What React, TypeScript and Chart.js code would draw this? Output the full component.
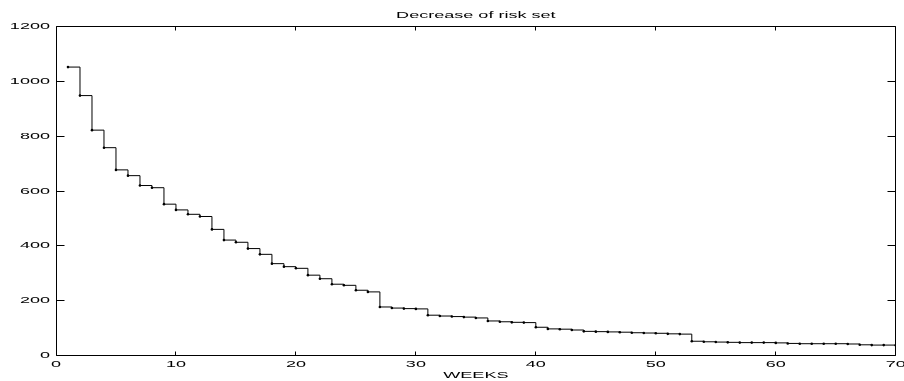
import React, { useEffect, useRef } from "react";
import { Chart, registerables } from "chart.js";

Chart.register(...registerables);

const chartTitle = "Decrease of risk set";
const xAxisTitle = "WEEKS";

const weeks = [
  1, 2, 3, 4, 5, 6, 7, 8, 9, 10,
  11, 12, 13, 14, 15, 16, 17, 18, 19, 20,
  21, 22, 23, 24, 25, 26, 27, 28, 29, 30,
  31, 32, 33, 34, 35, 36, 37, 38, 39, 40,
  41, 42, 43, 44, 45, 46, 47, 48, 49, 50,
  51, 52, 53, 54, 55, 56, 57, 58, 59, 60,
  61, 62, 63, 64, 65, 66, 67, 68, 69, 70,
];

const riskSet = [
  1052, 948, 822, 758, 677, 656, 620, 612, 552, 531,
  515, 507, 460, 421, 413, 390, 369, 335, 324, 318,
  293, 280, 260, 256, 238, 232, 177, 173, 171, 170,
  147, 144, 142, 140, 137, 126, 123, 121, 120, 103,
  97, 96, 93, 88, 87, 86, 85, 83, 82, 81,
  79, 78, 52, 50, 49, 48, 47, 47, 47, 46,
  44, 43, 43, 43, 43, 42, 39, 38, 38, 37,
];

const xTicks = [0, 10, 20, 30, 40, 50, 60, 70];
const yTicks = [0, 200, 400, 600, 800, 1000, 1200];

const FONT_FAMILY = "'Liberation Sans', Helvetica, Arial, sans-serif";
const STRETCH = 1.9;

// Draws text horizontally stretched (the reference's text is wide and short)
const stretchText = {
  id: "stretchText",
  beforeDraw(chart: any) {
    const ctx: any = chart.ctx;
    if (ctx.__origFillText) return;
    const orig = ctx.fillText;
    ctx.__origFillText = orig;
    ctx.fillText = function (text: string, x: number, y: number, maxWidth?: number) {
      this.save();
      this.translate(x, y);
      this.scale(STRETCH, 1);
      if (maxWidth !== undefined && maxWidth !== null && isFinite(maxWidth)) {
        orig.call(this, text, 0, 0, maxWidth / STRETCH);
      } else {
        orig.call(this, text, 0, 0);
      }
      this.restore();
    };
  },
  afterDraw(chart: any) {
    const ctx: any = chart.ctx;
    if (ctx.__origFillText) {
      ctx.fillText = ctx.__origFillText;
      delete ctx.__origFillText;
    }
  },
};

// MATLAB-style box with inward ticks on all four sides
const boxAndTicks = {
  id: "boxAndTicks",
  afterDraw(chart: any) {
    const { ctx, chartArea } = chart;
    const xs = chart.scales.x;
    const ys = chart.scales.y;
    const al = (v: number) => Math.floor(v) + 0.5;
    const L = al(chartArea.left);
    const R = al(chartArea.right);
    const T = al(chartArea.top);
    const B = al(chartArea.bottom);
    ctx.save();
    ctx.strokeStyle = "#000";
    ctx.lineWidth = 1;
    ctx.beginPath();
    ctx.rect(L, T, R - L, B - T);
    ctx.stroke();
    ctx.beginPath();
    xs.ticks.forEach((t: any) => {
      const px = al(xs.getPixelForValue(t.value));
      ctx.moveTo(px, B);
      ctx.lineTo(px, B - 4);
      ctx.moveTo(px, T);
      ctx.lineTo(px, T + 4);
    });
    ys.ticks.forEach((t: any) => {
      const py = al(ys.getPixelForValue(t.value));
      ctx.moveTo(L, py);
      ctx.lineTo(L + 8, py);
      ctx.moveTo(R, py);
      ctx.lineTo(R - 8, py);
    });
    ctx.stroke();
    ctx.restore();
  },
};

export default function App() {
  const canvasRef = useRef<HTMLCanvasElement | null>(null);

  useEffect(() => {
    if (!canvasRef.current) return;
    const font = { family: FONT_FAMILY, size: 9.5 };
    const chart = new Chart(canvasRef.current, {
      type: "line",
      data: {
        datasets: [
          {
            data: weeks.map((w, i) => ({ x: w, y: riskSet[i] })),
            stepped: "before",
            borderColor: "#000",
            borderWidth: 1,
            backgroundColor: "#000",
            pointRadius: 1.3,
            pointBorderWidth: 0,
            pointBackgroundColor: "#000",
            fill: false,
          },
        ],
      },
      options: {
        responsive: false,
        animation: false,
        events: [],
        layout: { padding: { left: 0, right: 7, top: 0, bottom: 0 } },
        plugins: {
          legend: { display: false },
          title: { display: false },
          tooltip: { enabled: false },
        },
        scales: {
          x: {
            type: "linear",
            position: "bottom",
            min: 0,
            max: 70,
            afterBuildTicks: (scale: any) => {
              scale.ticks = xTicks.map((v) => ({ value: v }));
            },
            ticks: {
              color: "#000",
              font,
              padding: 3,
              maxRotation: 0,
              autoSkip: false,
              callback: (v: any) => String(v),
            },
            grid: { display: false, drawTicks: false },
            border: { display: false },
            title: {
              display: true,
              text: xAxisTitle,
              color: "#000",
              font,
              padding: { top: 0, bottom: 0 },
            },
            afterFit: (scale: any) => {
              scale.height = 25.5;
            },
          },
          x2: {
            type: "linear",
            axis: "x",
            position: "top",
            min: 0,
            max: 70,
            ticks: { display: false },
            grid: { display: false, drawTicks: false },
            border: { display: false },
            title: {
              display: true,
              text: chartTitle,
              color: "#000",
              font,
              padding: { top: 10, bottom: 0 },
            },
            afterFit: (scale: any) => {
              scale.height = 26.5;
            },
          },
          y: {
            type: "linear",
            min: 0,
            max: 1200,
            afterBuildTicks: (scale: any) => {
              scale.ticks = yTicks.map((v) => ({ value: v }));
            },
            ticks: { color: "#000", font, padding: 6, callback: (v: any) => String(v) },
            grid: { display: false, drawTicks: false },
            border: { display: false },
            afterFit: (scale: any) => {
              scale.width = 56;
            },
          },
        },
      } as any,
      plugins: [stretchText, boxAndTicks],
    });
    return () => chart.destroy();
  }, []);

  return (
    <div style={{ position: "fixed", left: 0, top: 0, width: 904, height: 381, background: "#fff" }}>
      <canvas ref={canvasRef} width={904} height={381} />
    </div>
  );
}
